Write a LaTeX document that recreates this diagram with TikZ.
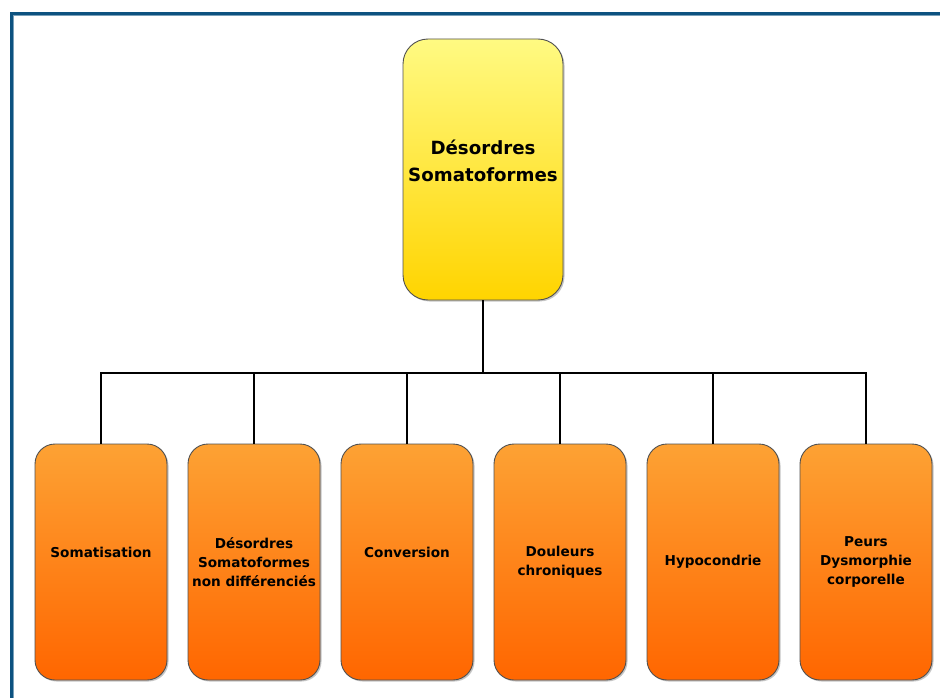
\documentclass[tikz,border=0pt]{standalone}
\usepackage{fontspec}
\setmainfont{DejaVu Sans}
\usetikzlibrary{shadows}
\definecolor{frameblue}{RGB}{12,82,128}
\definecolor{ytop}{RGB}{255,250,130}
\definecolor{ybot}{RGB}{255,212,0}
\definecolor{otop}{RGB}{253,162,52}
\definecolor{obot}{RGB}{255,102,0}
\definecolor{boxedge}{RGB}{80,80,80}
\tikzset{
  rootbox/.style={draw=boxedge, line width=0.9pt, rounded corners=25pt,
    minimum width=160pt, minimum height=261pt, inner sep=0pt,
    top color=ytop, bottom color=ybot,
    drop shadow={shadow xshift=1.5pt, shadow yshift=-1.5pt, fill=gray, opacity=0.45}},
  leafbox/.style={draw=boxedge, line width=0.9pt, rounded corners=20pt,
    minimum width=132pt, minimum height=236pt, inner sep=0pt,
    top color=otop, bottom color=obot,
    drop shadow={shadow xshift=1.5pt, shadow yshift=-1.5pt, fill=gray, opacity=0.45}},
  roottxt/.style={align=center, inner sep=0pt, font=\bfseries\fontsize{18.2}{26.7}\selectfont},
  leaftxt/.style={align=center, inner sep=0pt, font=\bfseries\fontsize{13.6}{19}\selectfont},
  conn/.style={draw=black, line width=2pt}
}
\begin{document}
\begin{tikzpicture}[x=1pt,y=-1pt]
\useasboundingbox (0,0) rectangle (940,698);
\fill[white] (0,0) rectangle (940,698);
\draw[frameblue, line width=3pt] (11.5,700) -- (11.5,13.5) -- (942,13.5);
\draw[frameblue!55!white, line width=0.8pt] (13.4,700) -- (13.4,15.4) -- (942,15.4);

\node[rootbox] (root) at (483,169.5) {};
\node[roottxt] (roott) at (483,161) {Désordres\\Somatoformes};

\node[leafbox] (b1) at (101,562) {};
\node[leafbox] (b2) at (254,562) {};
\node[leafbox] (b3) at (407,562) {};
\node[leafbox] (b4) at (560,562) {};
\node[leafbox] (b5) at (713,562) {};
\node[leafbox] (b6) at (866,562) {};

\node[leaftxt] (t1) at (101,552) {Somatisation};
\node[leaftxt] (t2) at (254,562) {Désordres\\Somatoformes\\non différenciés};
\node[leaftxt] (t3) at (407,552) {Conversion};
\node[leaftxt] (t4) at (560,562) {Douleurs\\chroniques};
\node[leaftxt] (t5) at (713,562) {Hypocondrie};
\node[leaftxt] (t6) at (866,562) {Peurs\\Dysmorphie\\corporelle};

\coordinate (hub) at (483,373);
\draw[conn] (root.south) -- (hub);
\draw[conn] (b1.north) |- (hub) -| (b6.north);
\foreach \b in {b2,b3,b4,b5}{
  \draw[conn] (\b.north) -- (\b.north |- hub);
}
\end{tikzpicture}
\end{document}
